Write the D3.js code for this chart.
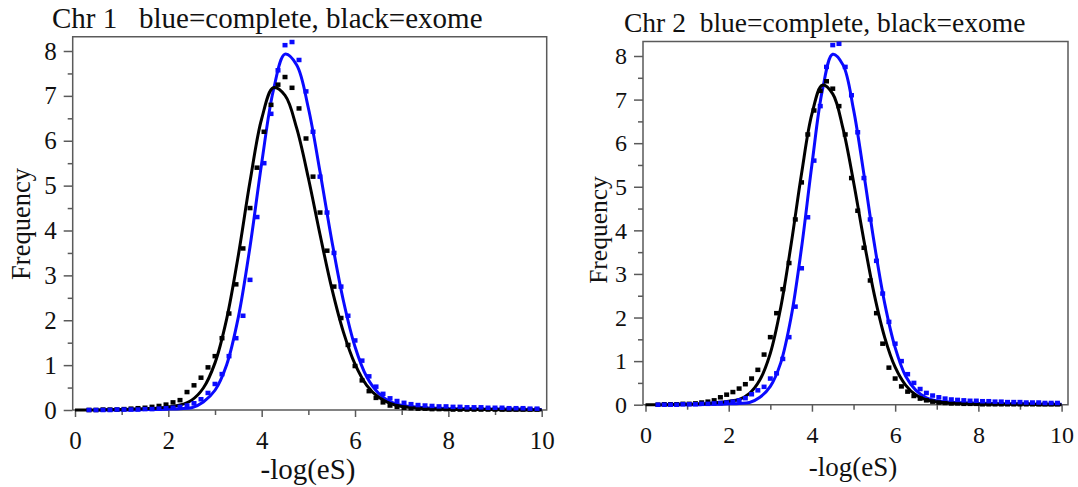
<!DOCTYPE html>
<html>
<head>
<meta charset="utf-8">
<script src="https://cdn.jsdelivr.net/npm/d3@7"></script>
<style>
  html, body { margin: 0; padding: 0; background: #fff; }
  svg { display: block; }
  svg text { font-family: "Liberation Serif", "Times New Roman", serif; }
</style>
</head>
<body>
<div id="chart"></div>
<script>
// x positions of the fitted curves and of the histogram bins
const fitX = [0, 0.25, 0.5, 0.75, 1, 1.25, 1.5, 1.75, 2, 2.25, 2.5, 2.75, 3, 3.25, 3.5, 3.75, 4, 4.25, 4.5, 4.75,
  5, 5.25, 5.5, 5.75, 6, 6.25, 6.5, 6.75, 7, 7.25, 7.5, 7.75, 8, 8.25, 8.5, 8.75, 9, 9.25, 9.5, 9.75, 10];
const binX = [0.3, 0.45, 0.6, 0.75, 0.9, 1.05, 1.2, 1.35, 1.5, 1.65, 1.8, 1.95, 2.1, 2.25, 2.4, 2.55, 2.7, 2.85,
  3.0, 3.15, 3.3, 3.45, 3.6, 3.75, 3.9, 4.05, 4.2, 4.35, 4.5, 4.65, 4.8, 4.95, 5.1, 5.25, 5.4, 5.55, 5.7, 5.85,
  6.0, 6.15, 6.3, 6.45, 6.6, 6.75, 6.9, 7.05, 7.2, 7.35, 7.5, 7.65, 7.8, 7.95, 8.1, 8.25, 8.4, 8.55, 8.7, 8.85,
  9.0, 9.15, 9.3, 9.45, 9.6, 9.75, 9.9];

// Chr 1
const chr1FitExome = [0, 0, 0, 0.01, 0.01, 0.02, 0.03, 0.04, 0.07, 0.11, 0.22, 0.49, 1.05, 2.03, 3.45, 5.09, 6.49, 7.18, 7.01, 6.28,
  5.17, 3.91, 2.72, 1.74, 1.02, 0.55, 0.29, 0.15, 0.08, 0.05, 0.03, 0.02, 0.01, 0.01, 0.01, 0.01, 0.01, 0, 0, 0, 0];
const chr1FitComplete = [null, null, 0, 0, 0, 0, 0.01, 0.01, 0.02, 0.03, 0.05, 0.18, 0.44, 1.01, 2.07, 3.64, 5.5, 7.12, 7.93, 7.69,
  6.73, 5.31, 3.79, 2.44, 1.41, 0.74, 0.38, 0.19, 0.1, 0.07, 0.05, 0.04, 0.03, 0.03, 0.03, 0.02, 0.02, 0.02, 0.02, 0.01, 0.01];
const chr1BinExome = [0, 0, 0.01, 0.01, 0.01, 0.02, 0.03, 0.04, 0.05, 0.07, 0.09, 0.12, 0.17, 0.22, 0.4, 0.55, 0.72, 0.95,
  1.2, 1.6, 2.15, 2.8, 3.6, 4.5, 5.4, 6.2, 6.8, 7.25, 7.42, 7.18, 6.72, 6.05, 5.2, 4.4, 3.55, 2.75, 2.05, 1.45,
  0.98, 0.66, 0.42, 0.27, 0.17, 0.1, 0.07, 0.05, 0.04, 0.03, 0.03, 0.02, 0.02, 0.02, 0.01, 0.01, 0.01, 0.01, 0.01, 0.01,
  0.01, 0.01, 0.01, 0.01, 0.01, 0.01, 0.01];
const chr1BinComplete = [0, 0, 0, 0, 0.01, 0.01, 0.01, 0.01, 0.02, 0.02, 0.03, 0.04, 0.05, 0.07, 0.1, 0.15, 0.24, 0.38,
  0.58, 0.8, 1.2, 1.6, 2.1, 2.9, 4.3, 5.5, 6.6, 7.57, 8.13, 8.2, 7.8, 7.1, 6.2, 5.2, 4.4, 3.5, 2.75, 2.1,
  1.55, 1.1, 0.75, 0.52, 0.36, 0.26, 0.2, 0.16, 0.13, 0.11, 0.1, 0.09, 0.08, 0.08, 0.07, 0.07, 0.06, 0.06, 0.06, 0.05,
  0.05, 0.05, 0.04, 0.04, 0.04, 0.03, 0.03];

// Chr 2
const chr2FitExome = [0, 0, 0, 0.01, 0.01, 0.02, 0.03, 0.05, 0.08, 0.12, 0.26, 0.57, 1.18, 2.23, 3.68, 5.3, 6.67, 7.33, 7.13, 6.32,
  5.11, 3.76, 2.52, 1.54, 0.86, 0.45, 0.22, 0.11, 0.06, 0.04, 0.03, 0.02, 0.01, 0.01, 0.01, 0.01, 0.01, 0.01, 0, 0, 0];
const chr2FitComplete = [null, null, 0, 0, 0, 0, 0.01, 0.01, 0.02, 0.03, 0.05, 0.17, 0.42, 0.96, 2.01, 3.6, 5.51, 7.21, 8.04, 7.79,
  6.77, 5.28, 3.69, 2.32, 1.31, 0.66, 0.33, 0.16, 0.09, 0.06, 0.05, 0.04, 0.03, 0.03, 0.02, 0.02, 0.02, 0.02, 0.01, 0.01, 0.01];
const chr2BinExome = [0, 0.01, 0.01, 0.01, 0.02, 0.02, 0.03, 0.05, 0.07, 0.1, 0.17, 0.23, 0.29, 0.37, 0.47, 0.6, 0.8, 1.15,
  1.55, 2.1, 2.65, 3.25, 4.25, 5.1, 6.2, 6.75, 7.2, 7.42, 7.25, 6.85, 6.2, 5.2, 4.45, 3.6, 2.85, 2.1, 1.4, 0.85,
  0.6, 0.42, 0.3, 0.2, 0.14, 0.1, 0.07, 0.05, 0.04, 0.03, 0.03, 0.02, 0.02, 0.02, 0.01, 0.01, 0.01, 0.01, 0.01, 0.01,
  0.01, 0.01, 0.01, 0.01, 0.01, 0.01, 0.01];
const chr2BinComplete = [0, 0, 0, 0, 0.01, 0.01, 0.01, 0.02, 0.02, 0.03, 0.04, 0.05, 0.07, 0.1, 0.15, 0.24, 0.33, 0.41,
  0.6, 0.72, 1.05, 1.55, 2.25, 3.13, 4.3, 5.6, 6.85, 7.75, 8.25, 8.28, 7.75, 7.1, 6.25, 5.2, 4.25, 3.3, 2.55, 1.9,
  1.4, 1.0, 0.7, 0.5, 0.36, 0.27, 0.21, 0.17, 0.14, 0.12, 0.11, 0.1, 0.09, 0.09, 0.08, 0.08, 0.07, 0.07, 0.06, 0.06,
  0.06, 0.05, 0.05, 0.05, 0.04, 0.04, 0.04];

const titles = ["Chr 1   blue=complete, black=exome", "Chr 2  blue=complete, black=exome"];
const xTicks = [0, 2, 4, 6, 8, 10];
const xMinorTicks = [1, 3, 5, 7, 9];
const yTicks = [0, 1, 2, 3, 4, 5, 6, 7, 8];
const yMinorTicks = [0.5, 1.5, 2.5, 3.5, 4.5, 5.5, 6.5, 7.5];
const xLabel = "-log(eS)";
const yLabel = "Frequency";

const W = 1078, H = 487;
const BLUE = "#0a0aff";
const AXIS = "#5a5a5a";
const SERIF = "Liberation Serif";

const svg = d3.select('#chart').append('svg')
    .attr('width', W)
    .attr('height', H)
    .attr('font-family', SERIF);

// layout of each panel
const panels = [
    { title: titles[0], fitC: chr1FitComplete, fitE: chr1FitExome, binC: chr1BinComplete, binE: chr1BinExome,
      xr: [75, 541.7], yr: [410, 51], boxL: 72.7, boxR: 546.7, boxT: 36.7,
      titleX: 52, titleY: 28, titleSize: 29, tickFont: 25, labelFont: 29,
      xLabelX: 308, xLabelY: 479, yLabelX: 30, yLabelY: 224, yLabelFont: 26.5 },
    { title: titles[1], fitC: chr2FitComplete, fitE: chr2FitExome, binC: chr2BinComplete, binE: chr2BinExome,
      xr: [645.5, 1061.6], yr: [404.7, 56], boxL: 643, boxR: 1068, boxT: 41.4,
      titleX: 624, titleY: 32, titleSize: 27.5, tickFont: 24, labelFont: 27,
      xLabelX: 853, xLabelY: 476, yLabelX: 607, yLabelY: 230, yLabelFont: 25.5 }
];

panels.forEach(p => {
    const x = d3.scaleLinear().domain([0, 10]).range(p.xr);
    const y = d3.scaleLinear().domain([0, 8]).range(p.yr);
    const g = svg.append('g');
    const y0 = y(0);

    // box (top + right), axes drawn below
    g.append('path')
        .attr('d', `M${p.boxL},${y0}V${p.boxT}H${p.boxR}V${y0}H${p.boxL}`)
        .attr('fill', 'none')
        .attr('stroke', AXIS)
        .attr('stroke-width', 1.5);

    // x axis
    g.append('g').attr('transform', `translate(0,${y0})`)
        .call(d3.axisBottom(x).tickValues(xTicks).tickSize(7).tickSizeOuter(0).tickPadding(14));
    g.append('g').attr('transform', `translate(0,${y0})`)
        .call(d3.axisBottom(x).tickValues(xMinorTicks).tickSize(5).tickSizeOuter(0).tickFormat(''));

    // y axis
    g.append('g').attr('transform', `translate(${p.boxL},0)`)
        .call(d3.axisLeft(y).tickValues(yTicks).tickSize(9).tickSizeOuter(0).tickPadding(7));
    g.append('g').attr('transform', `translate(${p.boxL},0)`)
        .call(d3.axisLeft(y).tickValues(yMinorTicks).tickSize(5).tickSizeOuter(0).tickFormat(''));

    g.selectAll('.domain').remove();
    g.selectAll('g').attr('font-family', SERIF).attr('font-size', p.tickFont);
    g.selectAll('.tick line').attr('stroke', AXIS).attr('stroke-width', 1.5);
    g.selectAll('.tick text')
        .attr('fill', '#111')
        .attr('font-family', SERIF)
        .attr('font-size', p.tickFont);

    // fitted curves
    const line = (vals) => d3.line()
        .defined((d, i) => vals[i] !== null)
        .x((d, i) => x(fitX[i]))
        .y((d, i) => y(vals[i]))
        .curve(d3.curveCatmullRom)(vals);

    g.append('path').attr('d', line(p.fitC))
        .attr('fill', 'none').attr('stroke', BLUE).attr('stroke-width', 3);
    g.append('path').attr('d', line(p.fitE))
        .attr('fill', 'none').attr('stroke', '#000').attr('stroke-width', 3);

    // histogram points
    g.selectAll('rect.exome')
        .data(p.binE)
        .enter()
        .append('rect')
        .attr('class', 'exome')
        .attr('x', (d, i) => x(binX[i]) - 2.5)
        .attr('y', d => y(d) - 2.25)
        .attr('width', 5)
        .attr('height', 4.5)
        .attr('fill', '#000');

    g.selectAll('rect.complete')
        .data(p.binC)
        .enter()
        .append('rect')
        .attr('class', 'complete')
        .attr('x', (d, i) => x(binX[i]) - 2.5)
        .attr('y', d => y(d) - 2.25)
        .attr('width', 5)
        .attr('height', 4.5)
        .attr('fill', BLUE);

    // texts
    g.append('text')
        .attr('x', p.titleX)
        .attr('y', p.titleY)
        .style('white-space', 'pre')
        .attr('font-size', p.titleSize)
        .attr('fill', '#111')
        .text(p.title);

    g.append('text')
        .attr('x', p.xLabelX)
        .attr('y', p.xLabelY)
        .attr('text-anchor', 'middle')
        .attr('font-size', p.labelFont)
        .attr('fill', '#111')
        .text(xLabel);

    g.append('text')
        .attr('transform', `translate(${p.yLabelX},${p.yLabelY}) rotate(-90)`)
        .attr('text-anchor', 'middle')
        .attr('font-size', p.yLabelFont)
        .attr('fill', '#111')
        .text(yLabel);
});
</script>
</body>
</html>
